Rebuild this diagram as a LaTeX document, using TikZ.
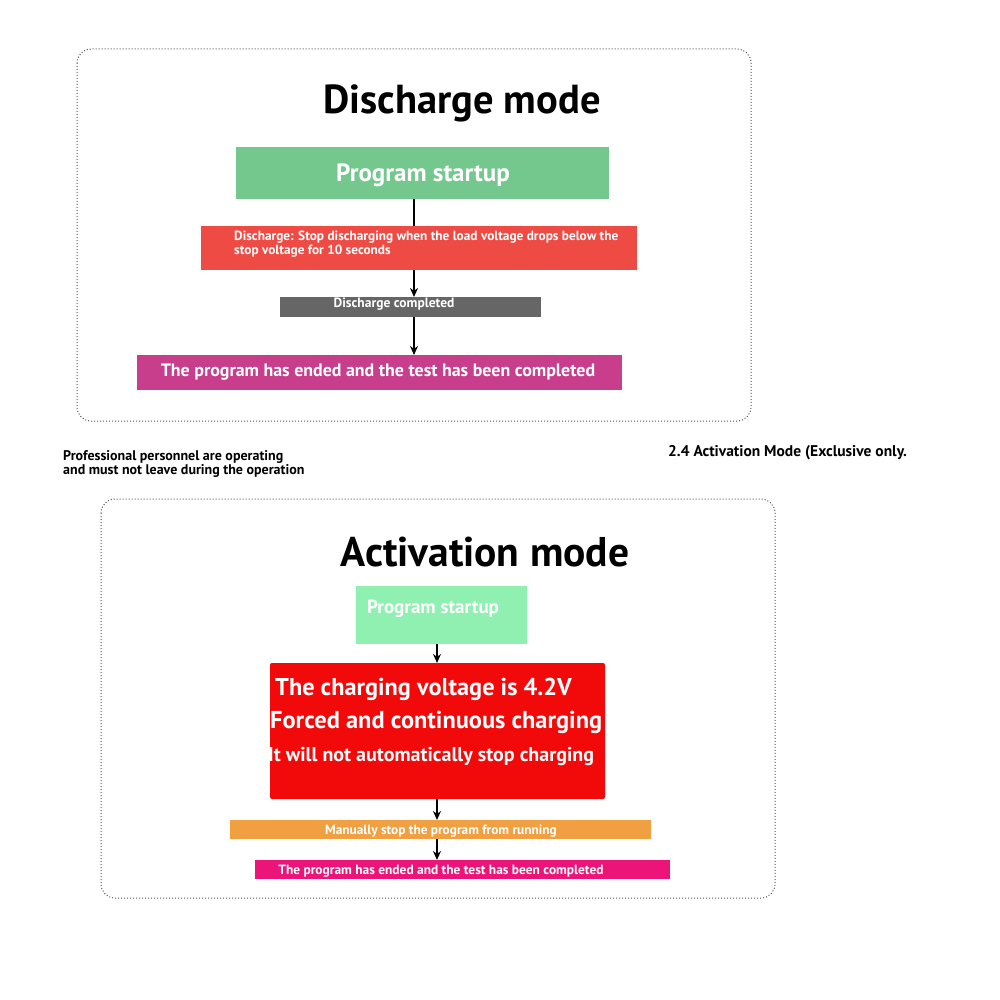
\documentclass[tikz,border=0pt]{standalone}
\usepackage{fontspec}
\setmainfont{PT Sans}
\usetikzlibrary{arrows.meta}
\definecolor{gA}{HTML}{74C78D}
\definecolor{rA}{HTML}{EF4B45}
\definecolor{grA}{HTML}{666666}
\definecolor{mA}{HTML}{C83D8C}
\definecolor{gB}{HTML}{8FF0B2}
\definecolor{rB}{HTML}{F20A0A}
\definecolor{oB}{HTML}{F0A040}
\definecolor{pB}{HTML}{EC1478}
\definecolor{frm}{HTML}{555555}
\newcommand{\fs}[2]{\fontsize{#1}{#2}\selectfont}
\tikzset{
  frame/.style={draw=frm, dotted, line width=1pt, rounded corners=14pt},
  box/.style={draw=none, inner sep=0pt, outer sep=0pt},
  wtxt/.style={text=white, font=\bfseries, inner sep=0pt},
  btxt/.style={text=black, font=\bfseries, inner sep=0pt},
  conn/.style={line width=1.5pt, black},
  arr/.style={conn, -{Stealth[length=9pt,width=8pt]}}
}
\begin{document}
\begin{tikzpicture}[x=1pt,y=-1pt]
\useasboundingbox[fill=white] (0,0) rectangle (1000,1000);
% frames
\draw[frame] (77,49) rectangle (751,421);
\draw[frame] (101,499) rectangle (775,898);
% ---- Discharge mode
\node[btxt] (t1) at (462,103) {\fs{40.5}{40}Discharge mode};
\node[box, fill=gA, minimum width=373pt, minimum height=52pt] (g1) at (422.5,173) {};
\node[wtxt] (g1t) at (423,175) {\fs{25}{25}Program startup};
\node[box, fill=rA, minimum width=436pt, minimum height=44pt] (r1) at (419,248) {};
\node[wtxt, anchor=north west, align=left] (r1t) at (234,231) {\fs{13.3}{13}Discharge: Stop discharging when the load voltage drops below the\\\fs{13.3}{13}stop voltage for 10 seconds};
\node[box, fill=grA, minimum width=261pt, minimum height=20pt] (k1) at (410.5,307) {};
\node[wtxt] (k1t) at (394,304) {\fs{13.5}{13}Discharge completed};
\node[box, fill=mA, minimum width=485pt, minimum height=35pt] (m1) at (379.5,372.5) {};
\node[wtxt] (m1t) at (378,372) {\fs{17.9}{18}The program has ended and the test has been completed};
\coordinate (ax1) at (414,0);
\draw[conn] (g1.south -| ax1) -- (r1.north -| ax1);
\draw[arr] (r1.south -| ax1) -- (k1.north -| ax1);
\draw[arr] (k1.south -| ax1) -- (m1.north -| ax1);
% ---- middle texts
\node[btxt, anchor=west, align=left] (n1) at (63,464) {\fs{14}{15}Professional personnel are operating\\\fs{14}{15}and must not leave during the operation};
\node[btxt, anchor=west] (n2) at (668,453) {\fs{15.5}{15}2.4 Activation Mode (Exclusive only.};
% ---- Activation mode
\node[btxt] (t2) at (485,552) {\fs{41.5}{41}Activation mode};
\node[box, fill=gB, minimum width=171pt, minimum height=58pt] (g2) at (441.5,615) {};
\node[wtxt] (g2t) at (433,609) {\fs{19}{19}Program startup};
\node[box, fill=rB, rounded corners=2pt, minimum width=335pt, minimum height=136pt] (r2) at (437.5,731) {};
\node[wtxt, anchor=west] (r2a) at (275,689) {\fs{24.3}{24}The charging voltage is 4.2V};
\node[wtxt, anchor=west] (r2b) at (270,722) {\fs{24.4}{24}Forced and continuous charging};
\node[wtxt, anchor=west] (r2c) at (268,757) {\fs{20}{20}It will not automatically stop charging};
\node[box, fill=oB, minimum width=421pt, minimum height=19pt] (o2) at (440.5,829.5) {};
\node[wtxt] (o2t) at (441,831) {\fs{13.3}{13}Manually stop the program from running};
\node[box, fill=pB, minimum width=415pt, minimum height=19pt] (p2) at (462.5,869.5) {};
\node[wtxt] (p2t) at (441,871) {\fs{13.4}{13}The program has ended and the test has been completed};
\coordinate (ax2) at (437,0);
\draw[arr] (g2.south -| ax2) -- (r2.north -| ax2);
\draw[arr] (r2.south -| ax2) -- (o2.north -| ax2);
\draw[arr] (o2.south -| ax2) -- (p2.north -| ax2);
\end{tikzpicture}
\end{document}
